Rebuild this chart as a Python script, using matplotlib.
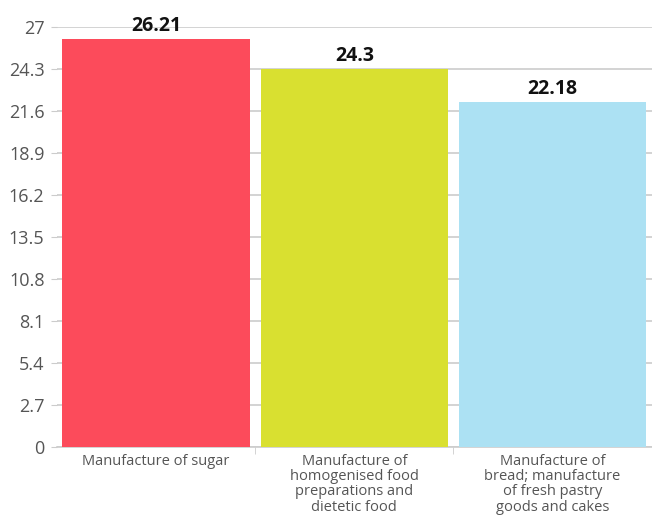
import matplotlib
matplotlib.use("Agg")
import matplotlib.pyplot as plt
import numpy as np

categories = ["Manufacture of sugar",
              "Manufacture of\nhomogenised food\npreparations and\ndietetic food",
              "Manufacture of\nbread; manufacture\nof fresh pastry\ngoods and cakes"]
values = [26.21, 24.3, 22.18]
value_labels = ["26.21", "24.3", "22.18"]
colors = ["#FC4B5B", "#D9E030", "#ACE1F3"]
yticks = [0, 2.7, 5.4, 8.1, 10.8, 13.5, 16.2, 18.9, 21.6, 24.3, 27]
ytick_labels = ["0", "2.7", "5.4", "8.1", "10.8", "13.5", "16.2", "18.9", "21.6", "24.3", "27"]

plt.rcParams['font.family'] = ['Open Sans', 'DejaVu Sans']

fig = plt.figure(figsize=(6.52, 5.22), dpi=100)
ax = fig.add_axes([0.0874, 0.1437, 0.912, 0.8046])

x = np.arange(len(categories))
ax.bar(x, values, width=0.945, color=colors, zorder=3)
for xi, v, lab in zip(x, values, value_labels):
    ax.text(xi, v + 0.22, lab, ha='center', va='bottom', fontsize=14,
            fontweight='bold', color='#111111', zorder=4)

ax.set_xlim(-0.5, 2.5)
ax.set_ylim(0, 27)
ax.set_yticks(yticks)
ax.set_yticklabels(ytick_labels, fontsize=13, color='#555555')
ax.yaxis.grid(True, color='#cccccc', linewidth=1.2, zorder=0)
ax.set_axisbelow(True)

ax.set_xticks(x)
ax.set_xticklabels(categories, fontsize=10.5, color='#555555', linespacing=1.02)
ax.tick_params(axis='x', length=0, pad=5)
ax.tick_params(axis='y', length=4, color='#cccccc', pad=5)

# category boundary ticks
ax.set_xticks([0.5, 1.5], minor=True)
ax.tick_params(axis='x', which='minor', length=5, color='#cccccc')

for s in ['top', 'right', 'left']:
    ax.spines[s].set_visible(False)
ax.spines['bottom'].set_color('#cccccc')
ax.spines['bottom'].set_linewidth(1.2)

fig.savefig("out.png", dpi=100)
